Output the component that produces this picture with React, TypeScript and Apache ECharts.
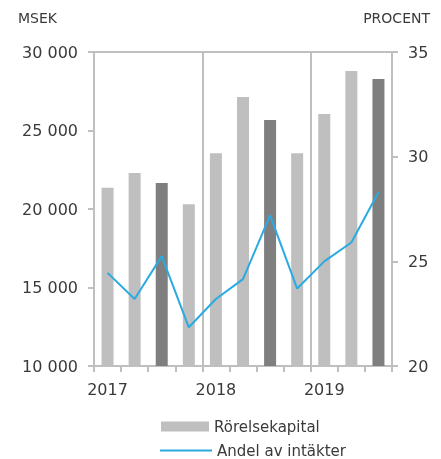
import React, { useEffect, useRef } from "react";
import * as echarts from "echarts";

const categories = ["2017", "", "", "", "2018", "", "", "", "2019", "", ""];
const rorelsekapital = [21350, 22300, 21650, 20300, 23550, 27130, 25670, 23550, 26050, 28790, 28280];
const darkIndexes = [2, 6, 10];
const andelAvIntakter = [24.45, 23.2, 25.25, 21.85, 23.2, 24.15, 27.2, 23.7, 25.0, 25.9, 28.3];
const leftTicks = { min: 10000, max: 30000, interval: 5000 };
const rightTicks = { min: 20, max: 35, interval: 5 };

const FONT = "DejaVu Sans";
const GRAY = "#BFBFBF";
const TEXT = "#3a3a3a";

export default function App() {
  const ref = useRef<HTMLDivElement>(null);
  useEffect(() => {
    if (!ref.current) return;
    const chart = echarts.init(ref.current, null, { renderer: "svg" });
    chart.setOption({
      animation: false,
      grid: {
        left: 94,
        right: 49,
        top: 52,
        bottom: 93,
        show: true,
        borderColor: GRAY,
        borderWidth: 2,
        containLabel: false,
      },
      graphic: [
        { type: "text", left: 18, top: 11, style: { text: "MSEK", font: `14px ${FONT}`, fill: TEXT } },
        { type: "text", right: 11, top: 11, style: { text: "PROCENT", font: `14px ${FONT}`, fill: TEXT } },
      ],
      legend: [
        {
          left: 156,
          top: 414,
          itemWidth: 48,
          itemHeight: 10,
          itemGap: 0,
          data: [{ name: "Rörelsekapital", icon: "rect" }],
          textStyle: { fontFamily: FONT, fontSize: 15, color: TEXT },
        },
        {
          left: 155,
          top: 438,
          itemWidth: 52,
          itemHeight: 2,
          data: [{ name: "Andel av intäkter", icon: "rect" }],
          textStyle: { fontFamily: FONT, fontSize: 15, color: TEXT },
        },
      ],
      xAxis: {
        type: "category",
        data: categories,
        boundaryGap: true,
        axisLine: { lineStyle: { color: GRAY, width: 2 } },
        axisTick: { show: true, interval: 0, length: 6, lineStyle: { color: GRAY, width: 2 } },
        axisLabel: {
          interval: 0,
          margin: 15,
          fontFamily: FONT,
          fontSize: 16,
          color: TEXT,
        },
        splitLine: {
          show: true,
          interval: (index: number) => index === 4 || index === 8,
          lineStyle: { color: GRAY, width: 2 },
        },
      },
      yAxis: [
        {
          type: "value",
          min: leftTicks.min,
          max: leftTicks.max,
          interval: leftTicks.interval,
          axisLine: { show: true, lineStyle: { color: GRAY, width: 2 } },
          axisTick: { show: true, length: 6, lineStyle: { color: GRAY, width: 2 } },
          splitLine: { show: false },
          axisLabel: {
            margin: 16,
            fontFamily: FONT,
            fontSize: 16,
            color: TEXT,
            formatter: (v: number) => {
              const s = String(v);
              return s.slice(0, s.length - 3) + " " + s.slice(-3);
            },
          },
        },
        {
          type: "value",
          min: rightTicks.min,
          max: rightTicks.max,
          interval: rightTicks.interval,
          position: "right",
          axisLine: { show: true, lineStyle: { color: GRAY, width: 2 } },
          axisTick: { show: true, length: 6, lineStyle: { color: GRAY, width: 2 } },
          splitLine: { show: false },
          axisLabel: { margin: 16, fontFamily: FONT, fontSize: 16, color: TEXT },
        },
      ],
      series: [
        {
          name: "Rörelsekapital",
          type: "bar",
          yAxisIndex: 0,
          barWidth: 12,
          itemStyle: { color: GRAY },
          data: rorelsekapital.map((v, i) =>
            darkIndexes.includes(i) ? { value: v, itemStyle: { color: "#7F7F7F" } } : v
          ),
        },
        {
          name: "Andel av intäkter",
          type: "line",
          yAxisIndex: 1,
          symbol: "none",
          showSymbol: false,
          lineStyle: { color: "#29ABE2", width: 2 },
          itemStyle: { color: "#29ABE2" },
          data: andelAvIntakter,
          z: 5,
        },
      ],
    });
    return () => chart.dispose();
  }, []);
  return (
    <div
      ref={ref}
      style={{ position: "fixed", left: 0, top: 0, width: 441, height: 459 }}
    />
  );
}
